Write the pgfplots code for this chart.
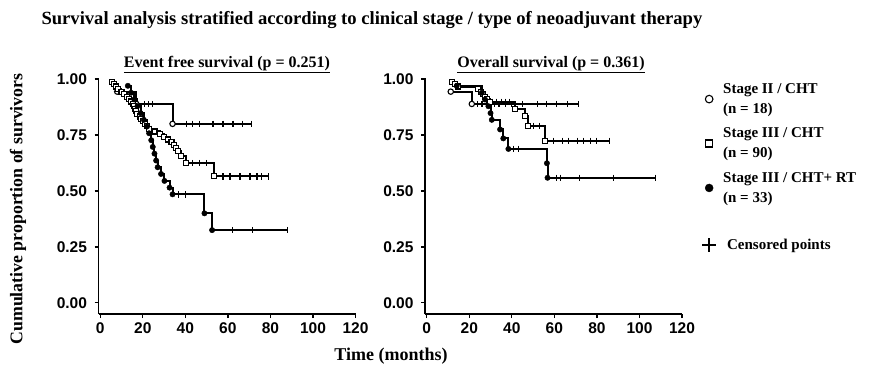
\documentclass[border=0pt]{standalone}
\usepackage{fontspec}
\setmainfont{Liberation Serif}
\setsansfont{Liberation Sans}
\usepackage{pgfplots}
\pgfplotsset{compat=1.18}

\pgfplotsset{
  kmaxis/.style={
    scale only axis, width=257pt, height=236pt,
    xmin=-0.8, xmax=120, ymin=-0.05, ymax=1.005,
    axis x line*=bottom, axis y line*=left,
    axis line style={line width=1.6pt, black},
    xtick={0,20,...,120}, ytick={0,0.25,0.5,0.75,1},
    yticklabel style={xshift=-4pt, /pgf/number format/fixed, /pgf/number format/fixed zerofill, /pgf/number format/precision=2},
    xticklabel style={yshift=-1pt},
    tick style={line width=1.3pt, black},
    major tick length=4pt, tick align=outside,
    ticklabel style={font=\sffamily\bfseries\fontsize{15.5}{15.5}\selectfont},
    /pgf/number format/assume math mode=true,
    clip=false,
  },
  kmline/.style={const plot, black, no marks, forget plot, /tikz/line width=2pt, /tikz/line join=miter},
  evo/.style={only marks, mark=*, mark size=2.7pt, mark options={fill=white, draw=black, line width=1.1pt}, forget plot},
  evs/.style={only marks, mark=square*, mark size=2.5pt, mark options={fill=white, draw=black, line width=1.1pt}, forget plot},
  evf/.style={only marks, mark=*, mark size=2.7pt, mark options={fill=black, draw=black}, forget plot},
  cens/.style={only marks, mark=|, mark size=3.2pt, mark options={line width=1.1pt, black}, forget plot},
}

\begin{document}
\begin{tikzpicture}
\useasboundingbox (0,0) rectangle (872pt,368pt);

% ---------------- Event free survival ----------------
\begin{axis}[kmaxis, at={(98.5pt,54pt)}, anchor=south west]
% Stage II / CHT
\addplot[kmline] coordinates {(8,0.944) (17,0.889) (34,0.800) (71,0.800)};
\addplot[evo] coordinates {(8,0.944) (17,0.889) (34,0.800)};
\addplot[cens] coordinates {(20.8,0.889) (22.7,0.889) (24.6,0.889) (40.5,0.8) (43.5,0.8) (46.6,0.8) (53,0.8) (57.7,0.8) (62.4,0.8) (67,0.8) (71,0.8)};
% Stage III / CHT
\addplot[kmline] coordinates {(5.5,0.989) (6.5,0.978) (7.5,0.967) (8.5,0.956) (10,0.944) (11,0.933) (12.5,0.922) (13.5,0.911) (14.5,0.900) (15.5,0.889) (16,0.878) (16.5,0.867) (17,0.856) (17.5,0.844) (18.5,0.833) (19,0.822) (20,0.811) (21,0.800) (22,0.789) (23,0.778) (25.5,0.766) (28,0.754) (30,0.742) (32,0.730) (33.5,0.717) (34.5,0.705) (35.5,0.692) (36.5,0.679) (38,0.655) (40.5,0.625) (53.4,0.565) (79,0.565)};
\addplot[evs] coordinates {(5.5,0.989) (6.5,0.978) (7.5,0.967) (8.5,0.956) (10,0.944) (11,0.933) (12.5,0.922) (13.5,0.911) (14.5,0.900) (15.5,0.889) (16,0.878) (16.5,0.867) (17,0.856) (17.5,0.844) (18.5,0.833) (19,0.822) (20,0.811) (21,0.800) (22,0.789) (23,0.778) (25.5,0.766) (28,0.754) (30,0.742) (32,0.730) (33.5,0.717) (34.5,0.705) (35.5,0.692) (36.5,0.679) (38,0.655) (40.5,0.625) (53.4,0.565)};
\addplot[cens] coordinates {(24,0.778) (43.5,0.625) (46.6,0.625) (50,0.625) (57.7,0.565) (61,0.565) (65.7,0.565) (70.4,0.565) (73.7,0.565) (76,0.565) (79,0.565)};
% Stage III / CHT + RT
\addplot[kmline] coordinates {(13,0.970) (14.5,0.939) (16,0.909) (17.5,0.879) (19,0.848) (20.5,0.818) (22,0.788) (23,0.758) (24,0.727) (24.7,0.697) (25.5,0.667) (26.3,0.636) (27,0.606) (28.6,0.576) (30.2,0.545) (32.6,0.515) (34,0.485) (49,0.400) (52.6,0.325) (88,0.325)};
\addplot[evf] coordinates {(13,0.970) (14.5,0.939) (16,0.909) (17.5,0.879) (19,0.848) (20.5,0.818) (22,0.788) (23,0.758) (24,0.727) (24.7,0.697) (25.5,0.667) (26.3,0.636) (27,0.606) (28.6,0.576) (30.2,0.545) (32.6,0.515) (34,0.485) (49,0.400) (52.6,0.325)};
\addplot[cens] coordinates {(37,0.485) (40.3,0.485) (62,0.325) (71.5,0.325) (88,0.325)};
\end{axis}

% ---------------- Overall survival ----------------
\begin{axis}[kmaxis, at={(425pt,54pt)}, anchor=south west,
  legend style={at={(1.06,0.995)}, anchor=north west, draw=none, fill=none,
    font=\bfseries\fontsize{15}{20}\selectfont, row sep=9pt, column sep=5pt,
    cells={anchor=west, align=left}},
  legend cell align=left]
% Stage II / CHT
\addplot[kmline] coordinates {(11.3,0.944) (21.2,0.889) (71.3,0.889)};
\addplot[evo] coordinates {(11.3,0.944) (21.2,0.889)};
\addplot[cens] coordinates {(24,0.889) (26,0.889) (28,0.889) (30,0.889) (32,0.889) (34,0.889) (37,0.889) (40,0.889) (45,0.889) (52,0.889) (56.5,0.889) (61,0.889) (66,0.889) (71.3,0.889)};
% Stage III / CHT
\addplot[kmline] coordinates {(11.8,0.989) (13.3,0.978) (14.9,0.967) (24,0.956) (25.5,0.944) (26.6,0.933) (27.4,0.922) (28.2,0.910) (29.8,0.898) (41.5,0.868) (46.3,0.836) (47.8,0.791) (55.7,0.724) (85.8,0.724)};
\addplot[evs] coordinates {(11.8,0.989) (13.3,0.978) (14.9,0.967) (24,0.956) (25.5,0.944) (26.6,0.933) (27.4,0.922) (28.2,0.910) (29.8,0.898) (41.5,0.868) (46.3,0.836) (47.8,0.791) (55.7,0.724)};
\addplot[cens] coordinates {(31,0.898) (33,0.898) (35,0.898) (37,0.898) (39,0.898) (50,0.791) (53,0.791) (59.4,0.724) (63.7,0.724) (66.5,0.724) (70.7,0.724) (73.5,0.724) (76.8,0.724) (80,0.724) (85.8,0.724)};
% Stage III / CHT + RT
\addplot[kmline] coordinates {(14.1,0.970) (25.9,0.939) (27.4,0.909) (29,0.879) (30,0.848) (30.6,0.818) (34.5,0.775) (36,0.735) (38.4,0.688) (56.5,0.624) (56.8,0.559) (107.4,0.559)};
\addplot[evf] coordinates {(14.1,0.970) (25.9,0.939) (27.4,0.909) (29,0.879) (30,0.848) (30.6,0.818) (34.5,0.775) (36,0.735) (38.4,0.688) (56.5,0.624) (56.8,0.559)};
\addplot[cens] coordinates {(41,0.688) (43,0.688) (61,0.559) (62.7,0.559) (72,0.559) (87.8,0.559) (107.4,0.559)};

% legend
\addlegendimage{only marks, mark=*, mark size=3.8pt, mark options={fill=white, draw=black, line width=1.1pt}}
\addlegendentry{Stage II / CHT\\(n = 18)}
\addlegendimage{only marks, mark=square*, mark size=3.5pt, mark options={fill=white, draw=black, line width=1.1pt}}
\addlegendentry{Stage III / CHT\\(n = 90)}
\addlegendimage{only marks, mark=*, mark size=4pt, mark options={fill=black, draw=black}}
\addlegendentry{Stage III / CHT+ RT\\(n = 33)}
\addlegendimage{empty legend}
\addlegendentry{\rule{0pt}{8pt}}
\addlegendimage{only marks, mark=+, mark size=7pt, mark options={line width=2pt, black}}
\addlegendentry{\hspace{4pt}Censored points}
\end{axis}

% titles and axis captions
\node[anchor=base west, font=\bfseries\fontsize{18.6}{20}\selectfont] at (38pt,344pt)
  {Survival analysis stratified according to clinical stage / type of neoadjuvant therapy};
\node[anchor=base, font=\bfseries\fontsize{16}{18}\selectfont] at (227pt,301pt)
  {\underline{Event free survival (p = 0.251)}};
\node[anchor=base, font=\bfseries\fontsize{16}{18}\selectfont] at (551pt,301pt)
  {\underline{Overall survival (p = 0.361)}};
\node[rotate=90, font=\bfseries\fontsize{17.8}{20}\selectfont] at (18pt,159pt)
  {Cumulative proportion of survivors};
\node[font=\bfseries\fontsize{18}{20}\selectfont] at (391pt,12pt) {Time (months)};
\end{tikzpicture}
\end{document}
